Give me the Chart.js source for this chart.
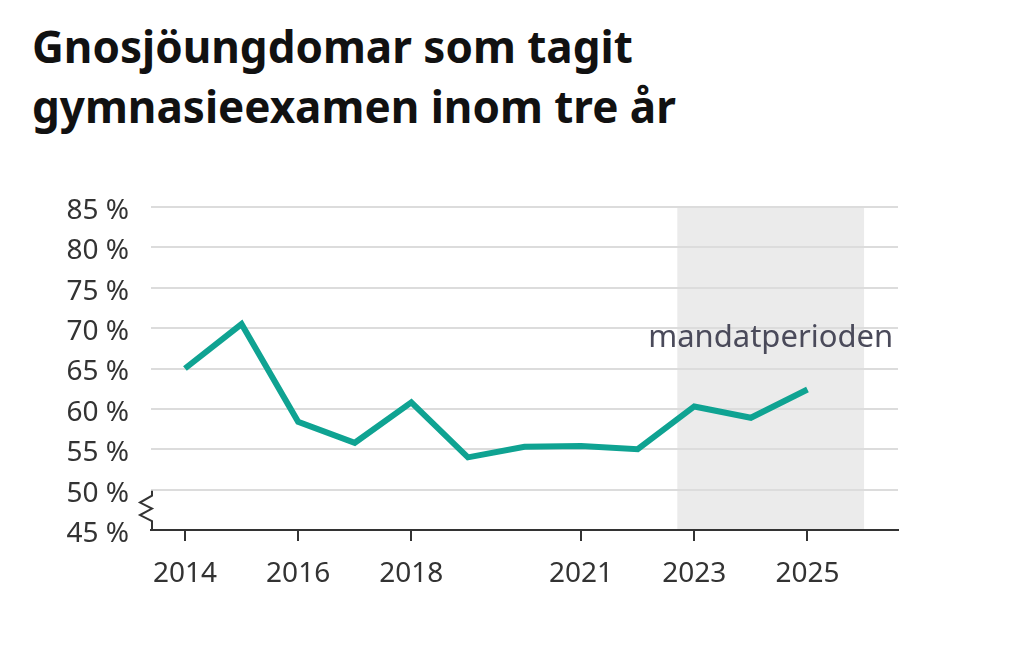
<!DOCTYPE html>
<html lang="sv">
<head>
<meta charset="utf-8">
<title>Gnosjöungdomar som tagit gymnasieexamen inom tre år</title>
<script src="https://cdn.jsdelivr.net/npm/chart.js@4.4.1/dist/chart.umd.min.js"></script>
<style>
  html, body { margin: 0; padding: 0; background: #fff; }
  #wrap { position: relative; width: 1024px; height: 648px; overflow: hidden; }
  h1 {
    position: absolute; left: 32px; top: 16px; margin: 0;
    font-family: "Noto Sans", sans-serif; font-weight: 700;
    font-size: 44px; line-height: 60px; color: #111;
  }
  #chartBox { position: absolute; left: 0; top: 0; width: 1024px; height: 648px; }
</style>
</head>
<body>
<div id="wrap">
  <h1>Gnosjöungdomar som tagit<br>gymnasieexamen inom tre år</h1>
  <div id="chartBox"><canvas id="examChart"></canvas></div>
</div>
<script>
// Data
const years = [2014, 2015, 2016, 2017, 2018, 2019, 2020, 2021, 2022, 2023, 2024, 2025];
const shares = [65.0, 70.5, 58.4, 55.8, 60.8, 54.0, 55.3, 55.4, 55.0, 60.3, 58.9, 62.4];
const yearTicks = [2014, 2016, 2018, 2021, 2023, 2025];
const percentTicks = [45, 50, 55, 60, 65, 70, 75, 80, 85];
const periodStart = 2022.7;
const periodEnd = 2026;
const periodLabel = 'mandatperioden';

const textColor = '#333333';
const tickFont = { family: '"Noto Sans", sans-serif', size: 28 };

// grey band for the mandate period + its label
const periodBand = {
  id: 'periodBand',
  beforeDraw(chart) {
    const { ctx, chartArea, scales } = chart;
    const x1 = scales.x.getPixelForValue(periodStart);
    const x2 = scales.x.getPixelForValue(periodEnd);
    ctx.save();
    ctx.fillStyle = '#ebebeb';
    ctx.fillRect(x1, chartArea.top, x2 - x1, chartArea.bottom - chartArea.top);
    ctx.restore();
  },
  afterDatasetsDraw(chart) {
    const { ctx, scales } = chart;
    const xc = scales.x.getPixelForValue((periodStart + periodEnd) / 2);
    ctx.save();
    ctx.font = '31px "Noto Sans", sans-serif';
    ctx.fillStyle = '#4a4a5a';
    ctx.textAlign = 'center';
    ctx.textBaseline = 'alphabetic';
    ctx.fillText(periodLabel, xc, scales.y.getPixelForValue(67.7));
    ctx.restore();
  }
};

// axis break (zigzag) between 45 and 50
const axisBreak = {
  id: 'axisBreak',
  afterDraw(chart) {
    const { ctx, chartArea, scales } = chart;
    const left = chartArea.left + 1;
    const top = scales.y.getPixelForValue(50);
    const bottom = chartArea.bottom;
    const h = bottom - top;
    ctx.save();
    ctx.strokeStyle = textColor;
    ctx.lineWidth = 2;
    ctx.lineJoin = 'miter';
    ctx.beginPath();
    ctx.moveTo(left, top + 1);
    ctx.lineTo(left, top + h * 0.15);
    ctx.lineTo(left - 12, top + h * 0.32);
    ctx.lineTo(left, top + h * 0.47);
    ctx.lineTo(left - 12, top + h * 0.63);
    ctx.lineTo(left, top + h * 0.78);
    ctx.lineTo(left, bottom);
    ctx.stroke();
    ctx.restore();
  }
};

const ctx = document.getElementById('examChart').getContext('2d');

let chart = new Chart(ctx, {
  type: 'line',
  data: {
    datasets: [{
      label: 'Andel med examen',
      data: years.map((y, i) => ({ x: y, y: shares[i] })),
      borderColor: '#0fa392',
      borderWidth: 6,
      borderJoinStyle: 'miter',
      pointRadius: 0,
      tension: 0,
      fill: false
    }]
  },
  options: {
    responsive: true,
    maintainAspectRatio: false,
    animation: false,
    layout: { padding: { left: 0, right: 126, top: 207, bottom: 0 } },
    plugins: {
      legend: { display: false },
      tooltip: { enabled: false },
      title: { display: false }
    },
    scales: {
      x: {
        type: 'linear',
        min: 2013.4,
        max: 2026.6,
        afterBuildTicks: scale => { scale.ticks = yearTicks.map(v => ({ value: v })); },
        afterFit: scale => { scale.height = 118; },
        ticks: {
          callback: v => String(v),
          color: textColor,
          font: tickFont,
          padding: 16,
          maxRotation: 0,
          autoSkip: false
        },
        grid: {
          drawOnChartArea: false,
          drawTicks: true,
          tickLength: 11,
          color: textColor,
          lineWidth: 2
        },
        border: { display: true, color: textColor, width: 2 }
      },
      y: {
        min: 45,
        max: 85,
        afterBuildTicks: scale => { scale.ticks = percentTicks.map(v => ({ value: v })); },
        afterFit: scale => { scale.width = 151; },
        ticks: {
          callback: v => v + ' %',
          color: textColor,
          font: tickFont,
          padding: 22,
          labelOffset: 4
        },
        grid: {
          drawTicks: false,
          color: c => (c.tick && c.tick.value === 45 ? 'rgba(0,0,0,0)' : '#dcdcdc'),
          lineWidth: 2
        },
        border: { display: false }
      }
    }
  },
  plugins: [periodBand, axisBreak]
});
</script>
</body>
</html>
